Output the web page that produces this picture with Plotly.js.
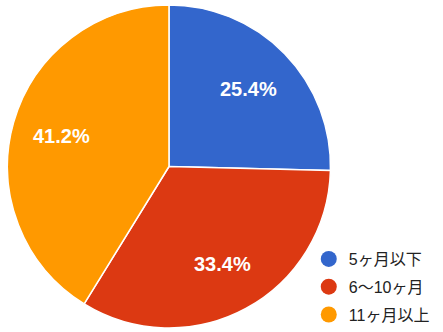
<!DOCTYPE html>
<html>
<head>
<meta charset="utf-8">
<script src="https://cdn.plot.ly/plotly-3.0.1.min.js"></script>
<style>html,body{margin:0;padding:0;background:#fff;}#chart{width:443px;height:332px;}</style>
</head>
<body>
<div id="chart"></div>
<script>
var categories = ["5ヶ月以下", "6〜10ヶ月", "11ヶ月以上"];
var values = [25.4, 33.4, 41.2];
var colors = ["#3366CC", "#DC3912", "#FF9900"];

var domX = [0.0169, 0.746], domY = [0.012, 0.985];
var W = 443, H = 332;

var traces = [{
  type: "pie",
  labels: categories,
  values: values,
  sort: false,
  direction: "clockwise",
  rotation: 0,
  marker: {colors: colors, line: {color: "#ffffff", width: 1.5}},
  textinfo: "none",
  hoverinfo: "label+percent",
  showlegend: false,
  domain: {x: domX, y: domY}
}];
categories.forEach(function(c, i) {
  traces.push({
    type: "scatter", mode: "markers", x: [null], y: [null], name: c,
    legendgroup: "g" + i,
    marker: {symbol: "circle", size: 16, color: colors[i]},
    hoverinfo: "skip"
  });
});

// percentage labels placed along each slice's mid-angle, derived from the values
var total = values.reduce(function(a, b) { return a + b; }, 0);
var cx = (domX[0] + domX[1]) / 2, cy = (domY[0] + domY[1]) / 2;
var rPx = Math.min((domX[1] - domX[0]) * W, (domY[1] - domY[0]) * H) / 2;
var annotations = [];
var cum = 0;
values.forEach(function(v) {
  var mid = (cum + v / 2) / total * 2 * Math.PI;
  cum += v;
  var d = 0.69 * rPx;
  annotations.push({
    xref: "paper", yref: "paper",
    x: cx + d * Math.sin(mid) / W,
    y: cy + d * Math.cos(mid) / H,
    text: "<b>" + (v / total * 100).toFixed(1) + "%</b>",
    showarrow: false, xanchor: "center", yanchor: "middle",
    font: {family: "Arial, Liberation Sans, sans-serif", size: 20, color: "#ffffff"}
  });
});

var layout = {
  width: W, height: H,
  margin: {l: 0, r: 0, t: 0, b: 0},
  paper_bgcolor: "#ffffff", plot_bgcolor: "#ffffff",
  xaxis: {visible: false}, yaxis: {visible: false},
  showlegend: true,
  annotations: annotations,
  legend: {
    x: 0.697, y: 0.0, xanchor: "left", yanchor: "bottom",
    traceorder: "grouped", tracegroupgap: 4,
    font: {family: "Arial, Liberation Sans, Noto Sans CJK JP, sans-serif", size: 16, color: "#222222"},
    bgcolor: "rgba(0,0,0,0)"
  }
};
Plotly.newPlot("chart", traces, layout, {staticPlot: true, displayModeBar: false});
</script>
</body>
</html>
